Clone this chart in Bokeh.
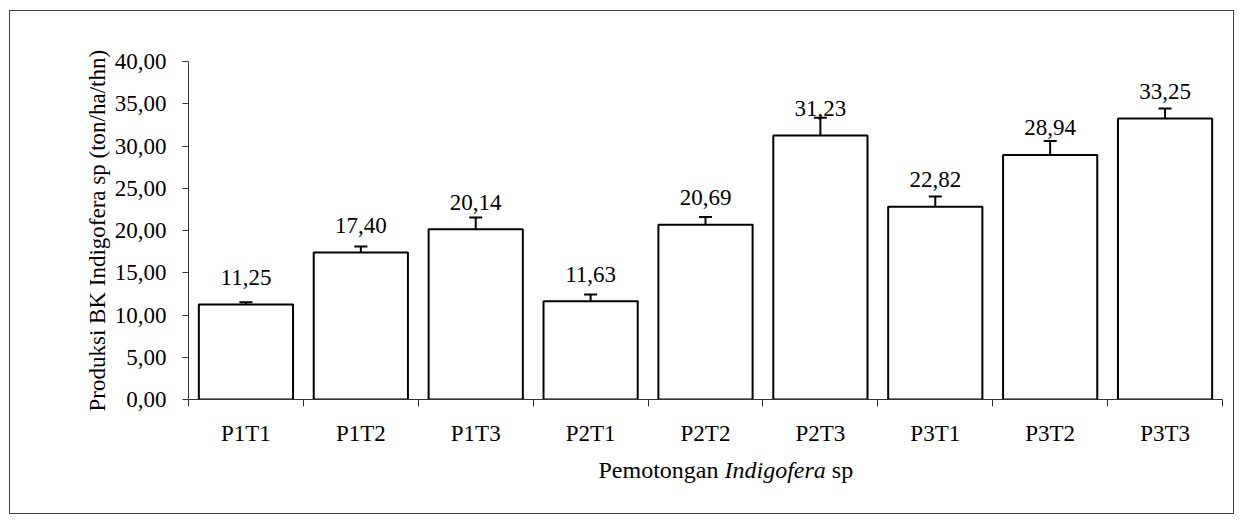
import math
from bokeh.plotting import figure
from bokeh.layouts import column
from bokeh.models import ColumnDataSource, FixedTicker, Range1d, Title
from bokeh.core.properties import value
from bokeh.embed import file_html
from bokeh.resources import INLINE

# ---- data ----
categories = ["P1T1", "P1T2", "P1T3", "P2T1", "P2T2", "P2T3", "P3T1", "P3T2", "P3T3"]
values = [11.25, 17.40, 20.14, 11.63, 20.69, 31.23, 22.82, 28.94, 33.25]
errors = [0.25, 0.7, 1.4, 0.8, 0.9, 2.1, 1.2, 1.65, 1.2]
value_labels = ["11,25", "17,40", "20,14", "11,63", "20,69", "31,23", "22,82", "28,94", "33,25"]
y_ticks = [0, 5, 10, 15, 20, 25, 30, 35, 40]
y_tick_labels = ["0,00", "5,00", "10,00", "15,00", "20,00", "25,00", "30,00", "35,00", "40,00"]
y_title = "Produksi BK Indigofera sp (ton/ha/thn)"
x_title_parts = ["Pemotongan", "Indigofera", "sp"]
x_title_styles = ["normal", "italic", "normal"]

FONT = "Liberation Serif"
n = len(categories)
xs = [i + 0.5 for i in range(n)]

TOTAL_W, MAIN_H, TITLE_H = 1223, 445, 57
BL, BR = 178, 11

src = ColumnDataSource(dict(
    x=xs, top=values, upper=[v + e for v, e in zip(values, errors)],
    lab=value_labels,
))

# ---------------- main chart ----------------
p = figure(width=TOTAL_W, height=MAIN_H, output_backend="svg", toolbar_location=None,
           x_range=Range1d(0, n), y_range=Range1d(0, 40),
           min_border_left=BL, min_border_right=BR, min_border_top=50, min_border_bottom=57)
p.background_fill_color = "white"
p.border_fill_color = "white"
p.outline_line_color = None
p.xgrid.visible = False
p.ygrid.visible = False

p.vbar(x="x", top="top", bottom=0, width=0.82, source=src,
       fill_color="white", line_color="black", line_width=2)

p.segment(x0="x", y0="top", x1="x", y1="upper", source=src, line_color="black", line_width=2)
p.scatter(x="x", y="upper", marker="dash", size=13, source=src,
          line_color="black", line_width=2)

p.text(x="x", y="top", text="lab", source=src, y_offset=-27,
       text_font=value(FONT), text_font_size="23px", text_color="black",
       text_align="center", text_baseline="alphabetic")

ya = p.yaxis[0]
ya.ticker = FixedTicker(ticks=y_ticks)
ya.major_label_overrides = {t: l for t, l in zip(y_ticks, y_tick_labels)}
ya.major_label_text_font = FONT
ya.major_label_text_font_size = "23px"
ya.major_label_text_color = "black"
ya.major_tick_out = 6
ya.major_tick_in = 0
ya.minor_tick_line_color = None
ya.major_label_standoff = 16
ya.axis_line_color = "#333333"
ya.major_tick_line_color = "#333333"

xa = p.xaxis[0]
xa.ticker = FixedTicker(ticks=xs, minor_ticks=list(range(n + 1)))
xa.major_label_overrides = {x: c for x, c in zip(xs, categories)}
xa.major_label_text_font = FONT
xa.major_label_text_font_size = "23px"
xa.major_label_text_color = "black"
xa.major_tick_line_color = None
xa.major_tick_out = 0
xa.major_tick_in = 0
xa.minor_tick_out = 7
xa.minor_tick_in = 0
xa.minor_tick_line_color = "#333333"
xa.major_label_standoff = 14
xa.axis_line_color = "#333333"

# y title as a left-side title, starting a little above the baseline
p.add_layout(Title(text=y_title, align="left", offset=-12, standoff=4,
                   text_font=FONT, text_font_size="23px", text_font_style="normal",
                   text_color="black"), "left")

# ---------------- x title panel (x in canvas pixels) ----------------
tx = figure(width=TOTAL_W, height=TITLE_H, output_backend="svg", toolbar_location=None,
            x_range=Range1d(BL, TOTAL_W - BR), y_range=Range1d(TITLE_H, 0),
            x_axis_type=None, y_axis_type=None,
            min_border_left=BL, min_border_right=BR, min_border_top=0, min_border_bottom=0)
tx.outline_line_color = None
tx.xgrid.visible = False
tx.ygrid.visible = False
fs = 24
x_left = 588
offs = [0, 5.25 * fs, (5.25 + 4.222 + 0.25) * fs]
for part, off, st in zip(x_title_parts, offs, x_title_styles):
    tx.text(x=[x_left + off], y=[13], text=[part],
            text_font=value(FONT), text_font_size=f"{fs}px", text_font_style=st,
            text_color="black", text_align="left", text_baseline="alphabetic")

layout = column(p, tx,
                styles={"margin-left": "9px", "margin-top": "10px",
                        "border": "1px solid #404040"})

open("out.html", "w").write(file_html(layout, INLINE))
